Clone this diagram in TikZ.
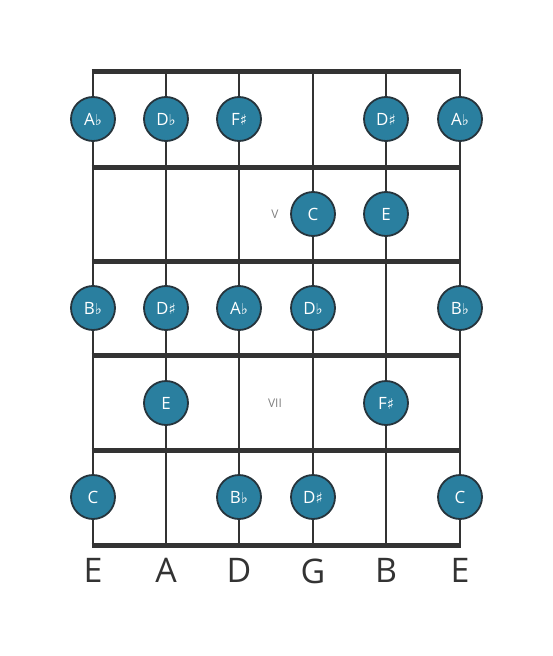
\documentclass[tikz,border=0pt]{standalone}
\usepackage{fontspec}
\setmainfont{Open Sans}
\newfontfamily\symfont{DejaVu Sans}
\usepackage{tikz}
\usetikzlibrary{positioning}
\definecolor{notefill}{HTML}{2A7F9F}
\definecolor{noteline}{HTML}{26343C}
\definecolor{boardline}{HTML}{333333}
\newcommand{\fl}{{\symfont\fontsize{15}{15}\selectfont ♭}}
\newcommand{\sh}{{\symfont\fontsize{15}{15}\selectfont ♯}}

\begin{document}
\begin{tikzpicture}[x=1bp,y=-1bp,
        fret/.style={draw=boardline,line width=5bp},
        string/.style={draw=boardline,line width=2.8bp},
        note/.style={circle,fill=notefill,draw=noteline,line width=1.8bp,minimum size=44bp,inner sep=0pt,text=white,font=\fontsize{17}{17}\selectfont},
        fretnum/.style={text=gray,font=\fontsize{12}{12}\selectfont},
        strname/.style={text=boardline,font=\fontsize{34}{34}\selectfont}]

    \useasboundingbox (0,0) rectangle (553,656);

    % strings
    \foreach \s/\x in {1/93,2/166,3/239,4/313,5/386,6/460} {
        \coordinate (top\s) at (\x,72);
        \coordinate (bot\s) at (\x,545);
        \draw[string] (top\s) -- (bot\s);
    }
    % frets
    \foreach \f/\y in {0/72,1/167,2/261,3/355,4/450,5/545} {
        \coordinate (fl\f) at (93,\y);
        \coordinate (fr\f) at (460,\y);
        \draw[fret] ([xshift=-1.4bp]fl\f) -- ([xshift=1.4bp]fr\f);
    }

    % fret numbers
    \node[fretnum] (v)   at (275,214) {V};
    \node[fretnum] (vii) at (275,403) {VII};

    % notes
    \foreach \n/\x/\y/\t in {a1/93/119/A\fl,a2/166/119/D\fl,a3/239/119/F\sh,a5/386/119/D\sh,a6/460/119/A\fl,
            b4/313/214/C,b5/386/214/E,
            c1/93/308/B\fl,c2/166/308/D\sh,c3/239/308/A\fl,c4/313/308/D\fl,c6/460/308/B\fl,
            d2/166/403/E,d5/386/403/F\sh,
            e1/93/497/C,e3/239/497/B\fl,e4/313/497/D\sh,e6/460/497/C}
        \node[note] (\n) at (\x,\y) {\t};

    % string names
    \foreach \s/\t in {1/E,2/A,3/D,4/G,5/B,6/E}
        \node[strname,below=10bp of bot\s] (name\s) {\t};
\end{tikzpicture}
\end{document}
